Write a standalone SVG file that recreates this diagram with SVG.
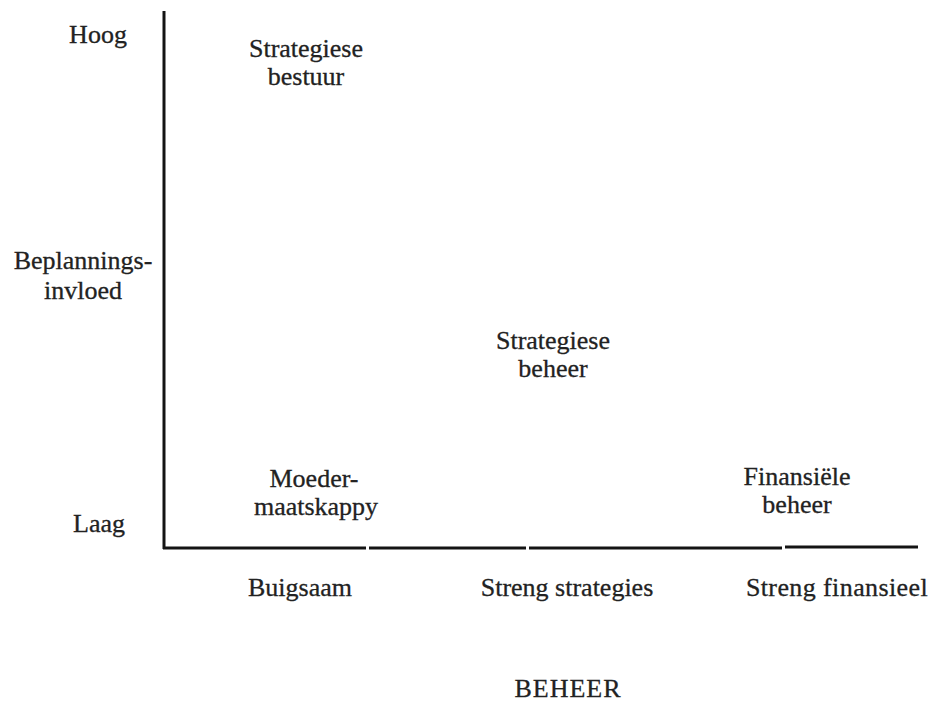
<svg xmlns="http://www.w3.org/2000/svg" width="933" height="703" viewBox="0 0 933 703">
  <style>
    .lbl { font-family: "Liberation Serif", "Times New Roman", serif; font-size: 26px; fill: #222222; text-anchor: middle; stroke: #222222; stroke-width: 0.3px; }
    .axis { stroke: #141414; stroke-width: 3; fill: none; stroke-linecap: butt; }
  </style>
  <rect width="933" height="703" fill="#ffffff"/>

  <!-- axes -->
  <g id="axes">
    <line class="axis" x1="164" y1="11" x2="164" y2="549"/>
    <line class="axis" x1="163" y1="548" x2="366" y2="548"/>
    <line class="axis" x1="369" y1="548" x2="526" y2="548"/>
    <line class="axis" x1="529" y1="548" x2="782" y2="548"/>
    <line class="axis" x1="785" y1="547" x2="918" y2="547"/>
  </g>

  <!-- vertical axis labels -->
  <g id="y-labels">
    <text class="lbl" x="98" y="43">Hoog</text>
    <text class="lbl" x="83" y="269">Beplannings-</text>
    <text class="lbl" x="83" y="299">invloed</text>
    <text class="lbl" x="99" y="532">Laag</text>
  </g>

  <!-- horizontal axis labels -->
  <g id="x-labels">
    <text class="lbl" x="300" y="596">Buigsaam</text>
    <text class="lbl" x="567" y="596">Streng strategies</text>
    <text class="lbl" x="837" y="596" style="letter-spacing:0.4px">Streng finansieel</text>
    <text class="lbl" x="568" y="697" style="letter-spacing:1px">BEHEER</text>
  </g>

  <!-- styles positioned in the grid -->
  <g id="strategiese-bestuur">
    <text class="lbl" x="306" y="57">Strategiese</text>
    <text class="lbl" x="306" y="85">bestuur</text>
  </g>
  <g id="strategiese-beheer">
    <text class="lbl" x="553" y="349">Strategiese</text>
    <text class="lbl" x="553" y="377">beheer</text>
  </g>
  <g id="moedermaatskappy">
    <text class="lbl" x="314" y="487">Moeder-</text>
    <text class="lbl" x="316" y="515">maatskappy</text>
  </g>
  <g id="finansiele-beheer">
    <text class="lbl" x="797" y="485">Finansiële</text>
    <text class="lbl" x="797" y="513">beheer</text>
  </g>
</svg>
